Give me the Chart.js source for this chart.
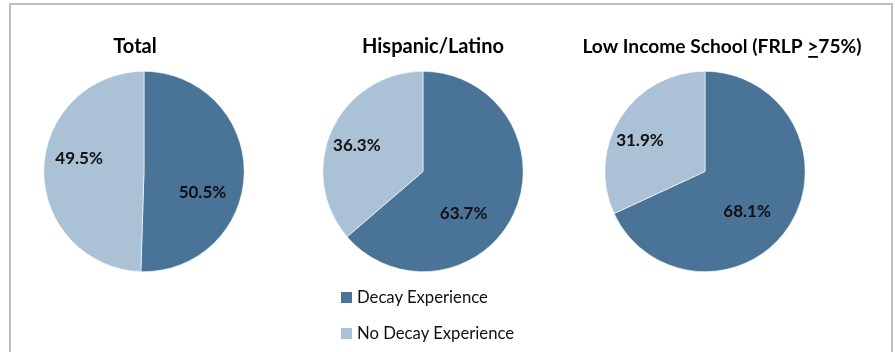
<!DOCTYPE html>
<html><head><meta charset="utf-8">
<script src="https://cdn.jsdelivr.net/npm/chart.js@4.4.1/dist/chart.umd.min.js"></script>
<style>
html,body{margin:0;padding:0;background:#fff;width:895px;height:352px;overflow:hidden;}
#frame{position:absolute;left:9px;top:3px;width:884px;height:400px;border:2px solid #BFBFBF;box-sizing:border-box;}
.pc{position:absolute;top:0;width:360px;height:352px;}
.leg{position:absolute;left:341px;font-family:Lato,sans-serif;font-size:16.7px;color:#111;display:flex;align-items:center;}
.leg span.sw{display:inline-block;width:11px;height:11px;margin-right:5px;}
</style></head>
<body>
<div id="frame"></div>
<canvas id="c0" class="pc" width="360" height="352" style="left:-36px"></canvas>
<canvas id="c1" class="pc" width="360" height="352" style="left:243px"></canvas>
<canvas id="c2" class="pc" width="360" height="352" style="left:525px"></canvas>
<div id="legend"></div>
<script>
// ---- data ----
const categories = ["Decay Experience", "No Decay Experience"];
const chartTitles = ["Total", "Hispanic/Latino", "Low Income School (FRLP >75%)"];
const totalValues = [50.5, 49.5];
const hispanicValues = [63.7, 36.3];
const lowIncomeValues = [68.1, 31.9];
const seriesValues = [totalValues, hispanicValues, lowIncomeValues];
const colors = ["#4A7398", "#AAC1D6"];
// label angle nudges (degrees) per chart per slice, to mimic best-fit placement
const labelNudge = [[19, 10], [21, -3], [11, -7]];
const labelRadius = [[0.62, 0.66], [0.58, 0.71], [0.58, 0.72]];
// title horizontal offset relative to pie centre, and font size
const titleShift = [-9, 10, 17];
const titleSize = [20, 20, 19.2];

const labelPlugin = {
  id: 'sliceLabels',
  afterDatasetsDraw(chart, args, opts) {
    const ctx = chart.ctx;
    const meta = chart.getDatasetMeta(0);
    const ds = chart.data.datasets[0];
    ctx.save();
    ctx.font = 'bold 17px Lato, sans-serif';
    ctx.fillStyle = '#111';
    ctx.textAlign = 'center';
    ctx.textBaseline = 'middle';
    meta.data.forEach((arc, i) => {
      const p = arc.getProps(['x','y','startAngle','endAngle','outerRadius'], true);
      const mid = (p.startAngle + p.endAngle) / 2 + (opts.nudge[i] || 0) * Math.PI / 180;
      const r = p.outerRadius * opts.rad[i];
      ctx.fillText(ds.data[i].toFixed(1) + '%', p.x + Math.cos(mid) * r, p.y + Math.sin(mid) * r);
    });
    // title
    const arc0 = meta.data[0];
    const text = opts.title;
    const cx = arc0.x + opts.shift;
    const cy = 47;
    ctx.font = 'bold ' + opts.size + 'px Lato, sans-serif';
    ctx.fillStyle = '#000';
    ctx.textBaseline = 'middle';
    ctx.fillText(text, cx, cy);
    const idx = text.indexOf('>');
    if (idx >= 0) {
      const full = ctx.measureText(text).width;
      const pre = ctx.measureText(text.slice(0, idx)).width;
      const gw = ctx.measureText('>').width;
      const x0 = cx - full / 2 + pre;
      ctx.fillRect(x0 + 1, cy + 9, gw - 1.5, 1.8);
    }
    ctx.restore();
  }
};

seriesValues.forEach((vals, k) => {
  new Chart(document.getElementById('c' + k), {
    type: 'pie',
    data: {
      labels: categories,
      datasets: [{
        data: vals,
        backgroundColor: colors,
        borderColor: '#ffffff',
        borderWidth: 0.6
      }]
    },
    options: {
      responsive: false,
      animation: false,
      layout: { padding: { left: 0, right: 0, top: 71, bottom: 80 } },
      plugins: {
        legend: { display: false },
        tooltip: { enabled: false },
        title: { display: false },
        sliceLabels: { nudge: labelNudge[k], rad: labelRadius[k], title: chartTitles[k], shift: titleShift[k], size: titleSize[k] }
      }
    },
    plugins: [labelPlugin]
  });
});

// HTML legend from categories/colors
const legendEl = document.getElementById('legend');
categories.forEach((c, i) => {
  const d = document.createElement('div');
  d.className = 'leg';
  d.style.top = (287 + i * 36) + 'px';
  d.innerHTML = '<span class="sw" style="background:' + colors[i] + '"></span>' + c;
  legendEl.appendChild(d);
});
</script>
</body></html>
